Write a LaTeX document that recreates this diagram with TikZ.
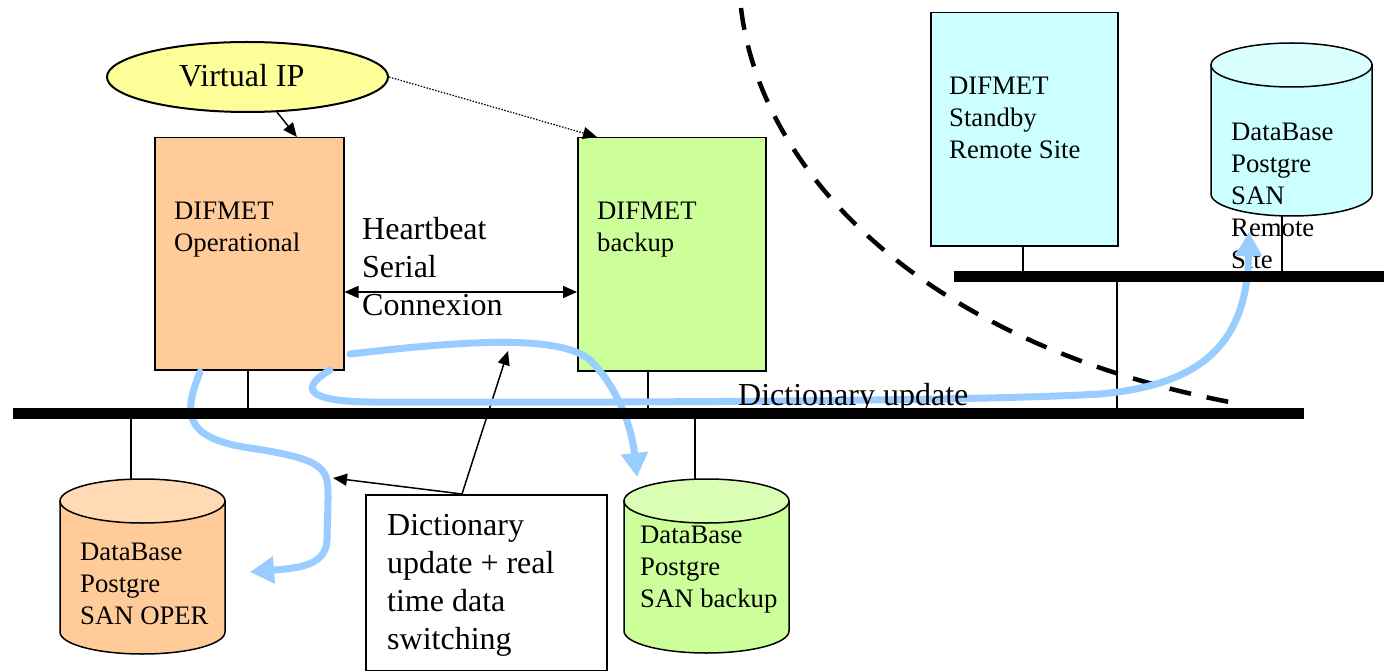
\documentclass[tikz,border=0pt]{standalone}
\usepackage{fontspec}
\setmainfont{Liberation Serif}
\usetikzlibrary{arrows.meta,calc,shapes.geometric}
\definecolor{opfill}{RGB}{255,204,153}
\definecolor{optop}{RGB}{255,218,180}
\definecolor{bkfill}{RGB}{204,255,153}
\definecolor{bktop}{RGB}{218,255,180}
\definecolor{sbfill}{RGB}{204,255,255}
\definecolor{sbtop}{RGB}{218,255,255}
\definecolor{vipfill}{RGB}{255,255,153}
\definecolor{flowblue}{RGB}{153,204,255}
\begin{document}
\begin{tikzpicture}[x=1pt,y=1pt,
 box/.style={draw,line width=1.5pt,inner sep=0pt,anchor=north west},
 small/.style={font=\fontsize{26.7}{32}\selectfont,align=left,inner sep=0pt,anchor=north west},
 big/.style={font=\fontsize{32}{38}\selectfont,align=left,inner sep=0pt,anchor=north west},
 link/.style={line width=1.5pt},
 bus/.style={line width=11.5pt},
 arr/.style={line width=1.5pt,-{Triangle[length=14pt,width=12pt]}},
 darr/.style={line width=1.5pt,{Triangle[length=14pt,width=12pt]}-{Triangle[length=14pt,width=12pt]}},
 dotarr/.style={line width=1.2pt,dash pattern=on 1.5pt off 1.5pt,-{Triangle[length=14pt,width=12pt]}},
 flow/.style={line width=7pt,draw=flowblue,line cap=round,-{Triangle[length=24pt,width=26pt]}},
 divide/.style={line width=4.5pt,dash pattern=on 22pt off 16pt},
 cyl/.style={draw,line width=1.5pt}
]
\useasboundingbox (0,0) rectangle (1384,-671);

% ---------- boxes ----------
\node[box,fill=opfill,minimum width=189pt,minimum height=232pt] (op) at (154,-137) {};
\node[box,fill=bkfill,minimum width=188pt,minimum height=233pt] (bk) at (577,-137) {};
\node[box,fill=sbfill,minimum width=187pt,minimum height=233pt] (sb) at (930,-12) {};
\node[box,fill=white,minimum width=241pt,minimum height=176pt] (dict) at (365,-494) {};
\node[ellipse,draw,line width=2pt,fill=vipfill,minimum width=281pt,minimum height=70pt,inner sep=0pt] (vip) at (247.5,-77) {};

% ---------- cylinders ----------
\filldraw[cyl,fill=opfill] (60,-501) -- (60,-632) arc[start angle=180,end angle=360,x radius=82.5pt,y radius=22pt] -- (225,-501) -- cycle;
\filldraw[cyl,fill=optop] (142.5,-501) ellipse[x radius=82.5pt,y radius=22pt];
\coordinate (dbop) at (131,-479.2);

\filldraw[cyl,fill=bkfill] (624,-501) -- (624,-631) arc[start angle=180,end angle=360,x radius=82.5pt,y radius=22pt] -- (789,-501) -- cycle;
\filldraw[cyl,fill=bktop] (706.5,-501) ellipse[x radius=82.5pt,y radius=22pt];
\coordinate (dbbk) at (695,-479.3);

\filldraw[cyl,fill=sbfill] (1211,-65) -- (1211,-194) arc[start angle=180,end angle=360,x radius=80.5pt,y radius=22pt] -- (1372,-65) -- cycle;
\filldraw[cyl,fill=sbtop] (1291.5,-65) ellipse[x radius=80.5pt,y radius=22pt];
\coordinate (dbrm) at (1282,-215.8);

% ---------- texts ----------
\node[small] (optext) at (174,-196.6) {\strut DIFMET\\Operational};
\node[small] (bktext) at (597,-196.6) {\strut DIFMET\\backup};
\node[small] (sbtext) at (949,-71.6) {\strut DIFMET\\Standby\\Remote Site};
\node[small] (dboptext) at (80,-537.6) {\strut DataBase\\Postgre\\SAN OPER};
\node[small] (dbbktext) at (640,-520.6) {\strut DataBase\\Postgre\\SAN backup};
\node[small] (dbrmtext) at (1231,-117.6) {\strut DataBase\\Postgre\\SAN\\Remote\\Site};
\node[big] (hbtext) at (362,-212.4) {\strut Heartbeat\\Serial\\Connexion};
\node[big] (dicttext) at (387,-508.4) {\strut Dictionary\\update + real\\time data\\switching};
\node[font=\fontsize{32}{38}\selectfont,inner sep=0pt,anchor=base west] (viptext) at (179,-87) {Virtual IP};

% ---------- bus coordinates ----------
\coordinate (busL) at (12.5,-413.5);
\coordinate (busR) at (1304,-413.5);
\coordinate (rbusL) at (954,-276.5);
\coordinate (rbusR) at (1384,-276.5);
\coordinate (b1) at (248,-413.5);
\coordinate (b2) at (648,-413.5);
\coordinate (b3) at (131,-413.5);
\coordinate (b4) at (695,-413.5);
\coordinate (b5) at (1117,-413.5);
\coordinate (r1) at (1023,-276.5);
\coordinate (r2) at (1282,-276.5);
\coordinate (r3) at (1117,-276.5);

% ---------- thin links ----------
\draw[link] (op.south -| b1) -- (b1);
\draw[link] (bk.south -| b2) -- (b2);
\draw[link] (b3) -- (dbop);
\draw[link] (b4) -- (dbbk);
\draw[link] (sb.south -| r1) -- (r1);
\draw[link] (dbrm) -- (r2);
\draw[link] (r3) -- (b5);

% ---------- arrows ----------
\coordinate (hby) at (460,-292);
\draw[darr] (op.east |- hby) -- (bk.west |- hby);
\draw[arr] (vip.-50) -- ($(op.north west)!0.75!(op.north east)$);
\draw[dotarr] (vip.east) -- ($(bk.north west)+(20,0)$);
\coordinate (dictup) at (508,-351);
\coordinate (dictleft) at (333,-478);
\draw[arr] ($(dict.north west)!0.4!(dict.north east)$) -- (dictup);
\draw[arr] ($(dict.north west)!0.4!(dict.north east)$) -- (dictleft);

% ---------- dashed site boundary ----------
\coordinate (dashA) at (741,-8);
\coordinate (dashB) at (1240,-404);
\draw[divide] (dashA) .. controls (760,-170) and (920,-345) .. (dashB);

% ---------- blue flows ----------
\coordinate (f1s) at (200,-372);
\coordinate (f1e) at (250,-572);
\draw[flow] (f1s) .. controls (185,-410) and (180,-438) .. (250,-448)
  .. controls (330,-460) and (328,-470) .. (328,-500) -- (327,-540)
  .. controls (326,-565) and (300,-568) .. (f1e);
\coordinate (f2s) at (350,-354);
\coordinate (f2e) at (637,-477);
\draw[flow] (f2s) .. controls (470,-340) and (560,-335) .. (590,-360)
  .. controls (620,-390) and (632,-430) .. (f2e);
\coordinate (f3s) at (330,-370);
\coordinate (f3e) at (1249,-232);
\draw[flow] (f3s) .. controls (300,-388) and (305,-401) .. (370,-402)
  .. controls (700,-403) and (1000,-400) .. (1100,-394)
  .. controls (1200,-385) and (1247,-345) .. (f3e);

\node[font=\fontsize{32}{38}\selectfont,inner sep=0pt,anchor=base west] (duptext) at (738,-405) {Dictionary update};

% ---------- buses ----------
\draw[bus] (busL) -- (busR);
\draw[bus] (rbusL) -- (rbusR);
\end{tikzpicture}
\end{document}
